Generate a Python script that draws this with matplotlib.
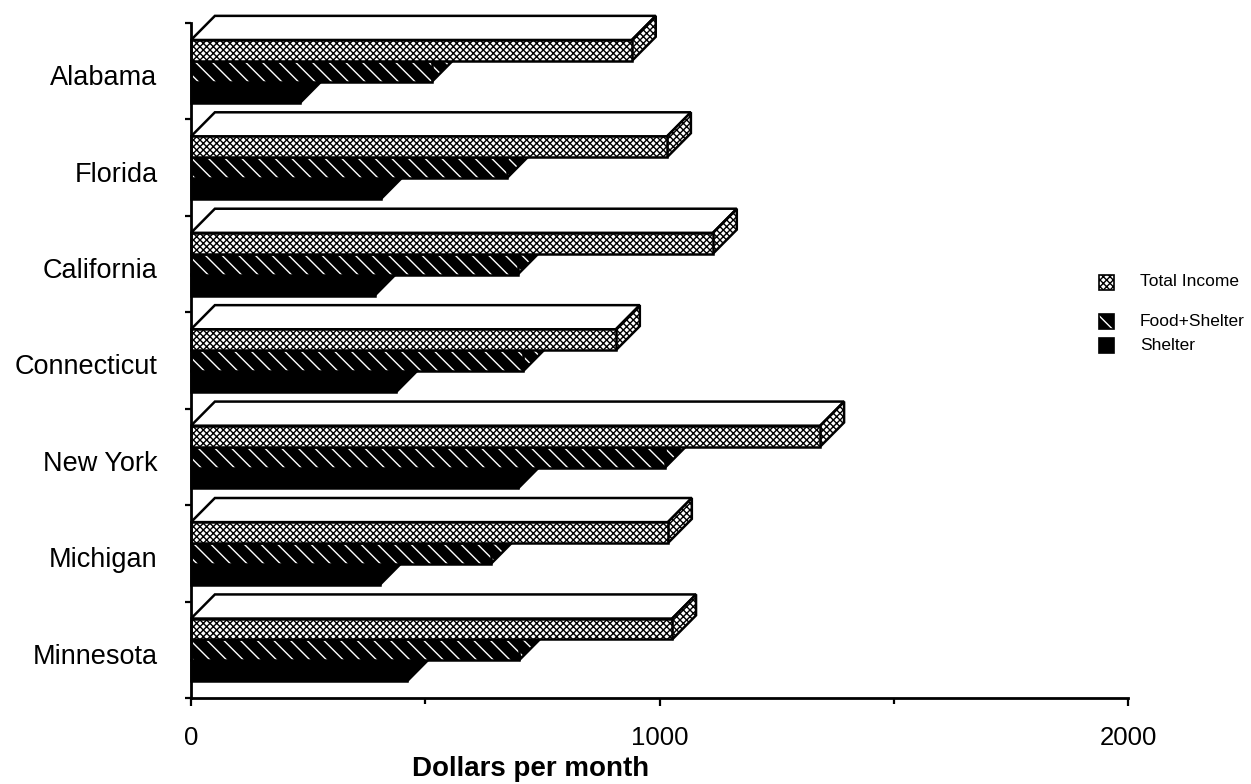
import numpy as np
import matplotlib.pyplot as plt
from matplotlib.patches import Polygon, Rectangle

plt.rcParams['font.family'] = ['Liberation Sans', 'DejaVu Sans']
plt.rcParams['hatch.linewidth'] = 1.0

# monthly budget per state
states = ['Alabama', 'Florida', 'California', 'Connecticut',
          'New York', 'Michigan', 'Minnesota']
total_income = [941, 1016, 1114, 907, 1343, 1018, 1027]
food_shelter = [514, 674, 697, 709, 1012, 640, 700]
shelter = [233, 405, 392, 438, 698, 403, 461]

series_names = ['Total Income', 'Food+Shelter', 'Shelter']

# bar geometry (y runs one unit per state, top to bottom)
BAR_H = 0.217
TOP_OFF = 0.176
DEPTH_X = 51      # dollars
DEPTH_Y = 0.25

# face colour, hatch, hatch colour
styles = {
    'Total Income': ('white', 'xxxxx', 'black'),
    'Food+Shelter': ('black', '\\\\', 'white'),
    'Shelter': ('black', None, 'black'),
}


def face(ax, pts, fc, hatch, hc):
    ax.add_patch(Polygon(pts, closed=True, facecolor=fc, edgecolor=hc,
                         hatch=hatch, lw=0, clip_on=False))
    ax.add_patch(Polygon(pts, closed=True, fill=False, edgecolor='black',
                         lw=1.8, joinstyle='miter', clip_on=False))


def bar3d(ax, y_top, v, style, top_white=False):
    fc, hatch, hc = style
    y_bot = y_top + BAR_H
    top = [(0, y_top), (DEPTH_X, y_top - DEPTH_Y),
           (v + DEPTH_X, y_top - DEPTH_Y), (v, y_top)]
    side = [(v, y_top), (v + DEPTH_X, y_top - DEPTH_Y),
            (v + DEPTH_X, y_bot - DEPTH_Y), (v, y_bot)]
    front = [(0, y_top), (v, y_top), (v, y_bot), (0, y_bot)]
    if top_white:
        face(ax, top, 'white', None, 'black')
    else:
        face(ax, top, fc, hatch, hc)
    face(ax, side, fc, hatch, hc)
    face(ax, front, fc, hatch, hc)


fig = plt.figure(figsize=(12.51, 7.84), dpi=100)
ax = fig.add_axes([191 / 1251, 1 - 698 / 784, (1128 - 191) / 1251, (698 - 23) / 784])

for i in range(len(states)):
    y0 = i + TOP_OFF
    # lowest bar first so the upper ones hide its top and side
    bar3d(ax, y0 + 2 * BAR_H, shelter[i], styles['Shelter'])
    bar3d(ax, y0 + BAR_H, food_shelter[i], styles['Food+Shelter'])
    bar3d(ax, y0, total_income[i], styles['Total Income'], top_white=True)

ax.set_xlim(0, 2000)
ax.set_ylim(len(states), 0)

for s in ['top', 'right']:
    ax.spines[s].set_visible(False)
for s in ['left', 'bottom']:
    ax.spines[s].set_linewidth(2)

ax.set_xticks([0, 1000, 2000])
ax.set_xticks([500, 1500], minor=True)
ax.tick_params(axis='x', which='major', direction='out', length=6, width=1.6,
               pad=14, labelsize=18.5)
ax.tick_params(axis='x', which='minor', direction='out', length=4, width=1.6)

ax.set_yticks([i + 0.54 for i in range(len(states))], states)
ax.set_yticks(np.arange(len(states) + 1), minor=True)
ax.tick_params(axis='y', which='major', length=0, pad=24, labelsize=19.5)
ax.tick_params(axis='y', which='minor', direction='out', length=4, width=1.6)

ax.set_xlabel('Dollars per month', fontsize=20, fontweight='bold')
ax.xaxis.set_label_coords(0.362, -0.086)

# legend, drawn by hand on the figure
leg_y = [282, 322, 345]
for name, yy in zip(series_names, leg_y):
    fc, hatch, hc = styles[name]
    x0, size = 1099, 15
    fig.add_artist(Rectangle((x0 / 1251, 1 - (yy + size / 2) / 784),
                             size / 1251, size / 784, transform=fig.transFigure,
                             facecolor=fc, edgecolor=hc, hatch=hatch, lw=0))
    fig.add_artist(Rectangle((x0 / 1251, 1 - (yy + size / 2) / 784),
                             size / 1251, size / 784, transform=fig.transFigure,
                             fill=False, edgecolor='black', lw=1.2))
    fig.text(1140 / 1251, 1 - yy / 784, name, fontsize=12.5, va='center', ha='left')

fig.savefig('out.png', dpi=100)
